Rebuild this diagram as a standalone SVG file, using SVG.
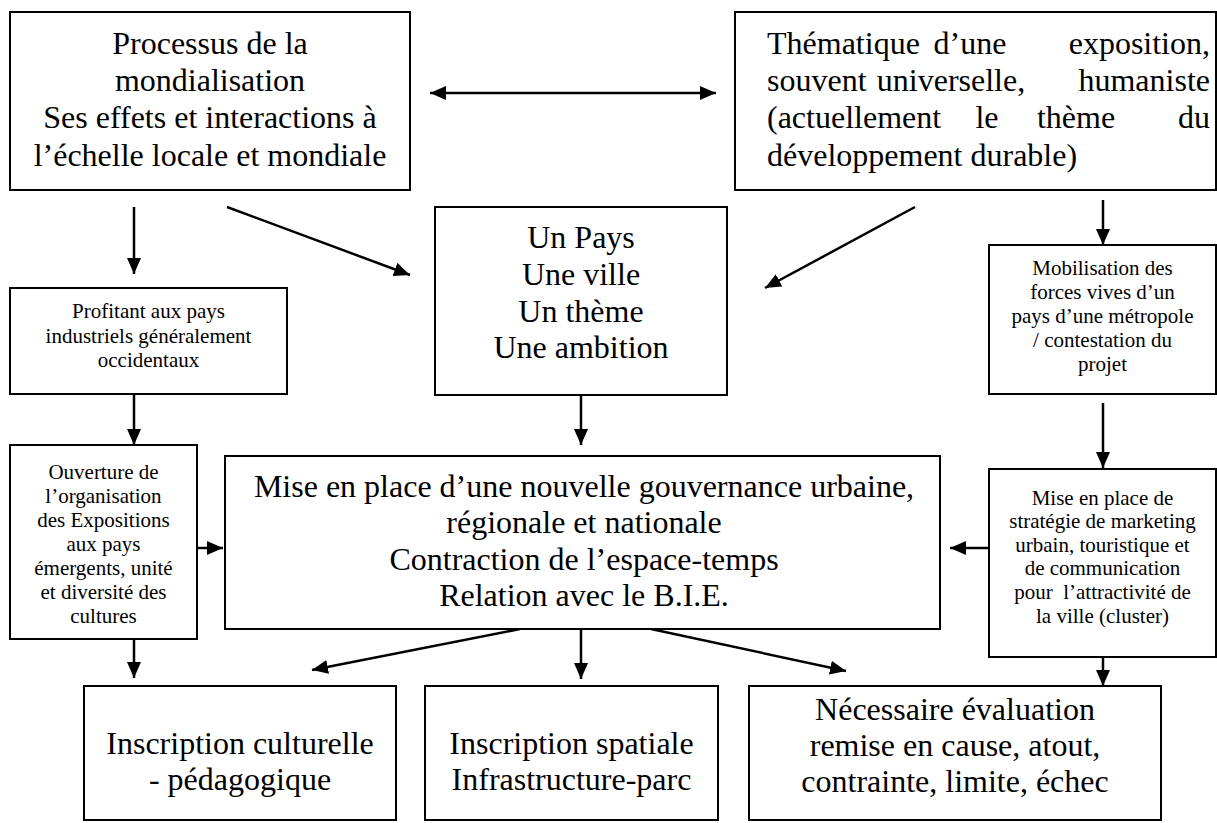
<svg xmlns="http://www.w3.org/2000/svg" width="1217" height="823" viewBox="0 0 1217 823">
<style>
.box{fill:#fff;stroke:#000;stroke-width:2}
.t{font-family:"Liberation Serif","Times New Roman",serif;fill:#000}
.b{font-size:32px}
.s{font-size:21px}
.c{text-anchor:middle}
.e{text-anchor:end}
.ln{stroke:#000;stroke-width:2.5;fill:none}
</style>
<defs>
<marker id="ah" viewBox="0 0 16 14" refX="16" refY="7" markerWidth="16" markerHeight="14" markerUnits="userSpaceOnUse" orient="auto-start-reverse">
<path d="M0,0 L16,7 L0,14 z" fill="#000"/>
</marker>
</defs>
<rect width="1217" height="823" fill="#fff"/>

<g id="connectors">
<line class="ln" x1="430" y1="93" x2="716" y2="93" marker-start="url(#ah)" marker-end="url(#ah)"/>
<line class="ln" x1="134" y1="207" x2="134" y2="274" marker-end="url(#ah)"/>
<line class="ln" x1="227" y1="207" x2="410" y2="275" marker-end="url(#ah)"/>
<line class="ln" x1="915" y1="207" x2="765" y2="288" marker-end="url(#ah)"/>
<line class="ln" x1="1103" y1="200" x2="1103" y2="245" marker-end="url(#ah)"/>
<line class="ln" x1="134" y1="394" x2="134" y2="445" marker-end="url(#ah)"/>
<line class="ln" x1="581" y1="395" x2="581" y2="445" marker-end="url(#ah)"/>
<line class="ln" x1="1103" y1="403" x2="1103" y2="468" marker-end="url(#ah)"/>
<line class="ln" x1="197" y1="548" x2="223" y2="548" marker-end="url(#ah)"/>
<line class="ln" x1="989" y1="548" x2="950" y2="548" marker-end="url(#ah)"/>
<line class="ln" x1="134" y1="639" x2="134" y2="678" marker-end="url(#ah)"/>
<line class="ln" x1="520" y1="629" x2="312" y2="670" marker-end="url(#ah)"/>
<line class="ln" x1="581" y1="629" x2="581" y2="679" marker-end="url(#ah)"/>
<line class="ln" x1="651" y1="629" x2="846" y2="671" marker-end="url(#ah)"/>
<line class="ln" x1="1103" y1="657" x2="1103" y2="686" marker-end="url(#ah)"/>
</g>

<g id="n-mondialisation">
<rect class="box" x="10" y="12" width="400" height="178"/>
<text class="t b c" x="210" y="54">Processus de la</text>
<text class="t b c" x="210" y="91">mondialisation</text>
<text class="t b c" x="210" y="128">Ses effets et interactions à</text>
<text class="t b c" x="210" y="166">l’échelle locale et mondiale</text>
</g>

<g id="n-thematique">
<rect class="box" x="735" y="12" width="481" height="178"/>
<text class="t b" x="767" y="54">Thématique</text>
<text class="t b c" x="970" y="54">d’une</text>
<text class="t b e" x="1210" y="54">exposition,</text>
<text class="t b" x="767" y="91">souvent</text>
<text class="t b c" x="951" y="91">universelle,</text>
<text class="t b e" x="1210" y="91">humaniste</text>
<text class="t b" x="767" y="128">(actuellement</text>
<text class="t b c" x="987" y="128">le</text>
<text class="t b c" x="1076" y="128">thème</text>
<text class="t b e" x="1210" y="128">du</text>
<text class="t b" x="767" y="166">développement durable)</text>
</g>

<g id="n-pays">
<rect class="box" x="435" y="207" width="292" height="188"/>
<text class="t b c" x="581" y="248">Un Pays</text>
<text class="t b c" x="581" y="285">Une ville</text>
<text class="t b c" x="581" y="322">Un thème</text>
<text class="t b c" x="581" y="358">Une ambition</text>
</g>

<g id="n-profitant">
<rect class="box" x="10" y="288" width="277" height="106"/>
<text class="t s c" x="148.5" y="318">Profitant aux pays</text>
<text class="t s c" x="148.5" y="343">industriels généralement</text>
<text class="t s c" x="148.5" y="367">occidentaux</text>
</g>

<g id="n-mobilisation">
<rect class="box" x="989" y="245" width="227" height="149"/>
<text class="t s c" x="1102.5" y="275">Mobilisation des</text>
<text class="t s c" x="1102.5" y="299">forces vives d’un</text>
<text class="t s c" x="1102.5" y="323">pays d’une métropole</text>
<text class="t s c" x="1102.5" y="347">/ contestation du</text>
<text class="t s c" x="1102.5" y="371">projet</text>
</g>

<g id="n-ouverture">
<rect class="box" x="10" y="445" width="187" height="194"/>
<text class="t s c" x="103.5" y="479">Ouverture de</text>
<text class="t s c" x="103.5" y="503">l’organisation</text>
<text class="t s c" x="103.5" y="527">des Expositions</text>
<text class="t s c" x="103.5" y="551">aux pays</text>
<text class="t s c" x="103.5" y="575">émergents, unité</text>
<text class="t s c" x="103.5" y="599">et diversité des</text>
<text class="t s c" x="103.5" y="623">cultures</text>
</g>

<g id="n-gouvernance">
<rect class="box" x="225" y="456" width="715" height="173"/>
<text class="t b c" x="584" y="497">Mise en place d’une nouvelle gouvernance urbaine,</text>
<text class="t b c" x="584" y="533">régionale et nationale</text>
<text class="t b c" x="584" y="570">Contraction de l’espace-temps</text>
<text class="t b c" x="584" y="606">Relation avec le B.I.E.</text>
</g>

<g id="n-marketing">
<rect class="box" x="989" y="469" width="227" height="188"/>
<text class="t s c" x="1102.5" y="505">Mise en place de</text>
<text class="t s c" x="1102.5" y="528">stratégie de marketing</text>
<text class="t s c" x="1102.5" y="552">urbain, touristique et</text>
<text class="t s c" x="1102.5" y="575">de communication</text>
<text class="t s c" x="1102.5" y="599" xml:space="preserve">pour  l’attractivité de</text>
<text class="t s c" x="1102.5" y="623">la ville (cluster)</text>
</g>

<g id="n-culturelle">
<rect class="box" x="84" y="686" width="312" height="134"/>
<text class="t b c" x="240" y="754">Inscription culturelle</text>
<text class="t b c" x="240" y="790">- pédagogique</text>
</g>

<g id="n-spatiale">
<rect class="box" x="425" y="686" width="293" height="134"/>
<text class="t b c" x="571.5" y="754">Inscription spatiale</text>
<text class="t b c" x="571.5" y="790">Infrastructure-parc</text>
</g>

<g id="n-evaluation">
<rect class="box" x="749" y="686" width="412" height="134"/>
<text class="t b c" x="955" y="720">Nécessaire évaluation</text>
<text class="t b c" x="955" y="756">remise en cause, atout,</text>
<text class="t b c" x="955" y="792">contrainte, limite, échec</text>
</g>
</svg>
